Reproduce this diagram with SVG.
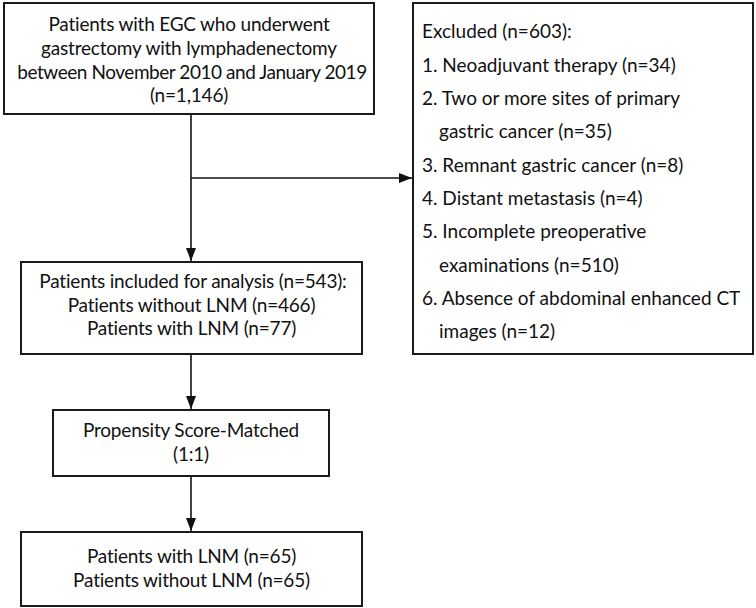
<svg xmlns="http://www.w3.org/2000/svg" width="756" height="608" viewBox="0 0 756 608">
<style>
.box{fill:#fff;stroke:#1a1a1a;stroke-width:2}
.t{font-family:Lato,"Liberation Sans",sans-serif;font-size:19px;fill:#111}
.c{text-anchor:middle;letter-spacing:-0.2px}
.ln{stroke:#111;stroke-width:1.6;fill:none}
</style>
<defs>
<marker id="ah" viewBox="0 0 13 10" refX="13" refY="5" markerWidth="13" markerHeight="10" markerUnits="userSpaceOnUse" orient="auto">
<path d="M0,0 L13,5 L0,10 Z" fill="#111"/>
</marker>
</defs>
<g id="connectors">
<path class="ln" d="M191,114 V261" marker-end="url(#ah)"/>
<path class="ln" d="M191,178 H412" marker-end="url(#ah)"/>
<path class="ln" d="M191,354 V409" marker-end="url(#ah)"/>
<path class="ln" d="M191,476 V531" marker-end="url(#ah)"/>
</g>
<g id="n1">
<rect class="box" x="4" y="3" width="370" height="111"/>
<text class="t c" x="189" y="31">Patients with EGC who underwent</text>
<text class="t c" x="189" y="55">gastrectomy with lymphadenectomy</text>
<text class="t c" x="192" y="79" style="letter-spacing:-0.45px">between November 2010 and January 2019</text>
<text class="t c" x="189" y="102">(n=1,146)</text>
</g>
<g id="n2">
<rect class="box" x="413" y="3" width="340" height="351"/>
<text class="t" x="422" y="38">Excluded (n=603):</text>
<text class="t" x="422" y="72">1. Neoadjuvant therapy (n=34)</text>
<text class="t" x="422" y="105">2. Two or more sites of primary</text>
<text class="t" x="439" y="138">gastric cancer (n=35)</text>
<text class="t" x="422" y="172">3. Remnant gastric cancer (n=8)</text>
<text class="t" x="422" y="205">4. Distant metastasis (n=4)</text>
<text class="t" x="422" y="238">5. Incomplete preoperative</text>
<text class="t" x="439" y="272">examinations (n=510)</text>
<text class="t" x="422" y="305">6. Absence of abdominal enhanced CT</text>
<text class="t" x="439" y="338">images (n=12)</text>
</g>
<g id="n3">
<rect class="box" x="21" y="262" width="341" height="92"/>
<text class="t c" x="193" y="288">Patients included for analysis (n=543):</text>
<text class="t c" x="191.5" y="312">Patients without LNM (n=466)</text>
<text class="t c" x="191.5" y="335">Patients with LNM (n=77)</text>
</g>
<g id="n4">
<rect class="box" x="53" y="410" width="276" height="66"/>
<text class="t c" x="191" y="437">Propensity Score-Matched</text>
<text class="t c" x="191" y="461">(1:1)</text>
</g>
<g id="n5">
<rect class="box" x="21" y="532" width="341" height="74"/>
<text class="t c" x="191.5" y="563">Patients with LNM (n=65)</text>
<text class="t c" x="191.5" y="587">Patients without LNM (n=65)</text>
</g>
</svg>
